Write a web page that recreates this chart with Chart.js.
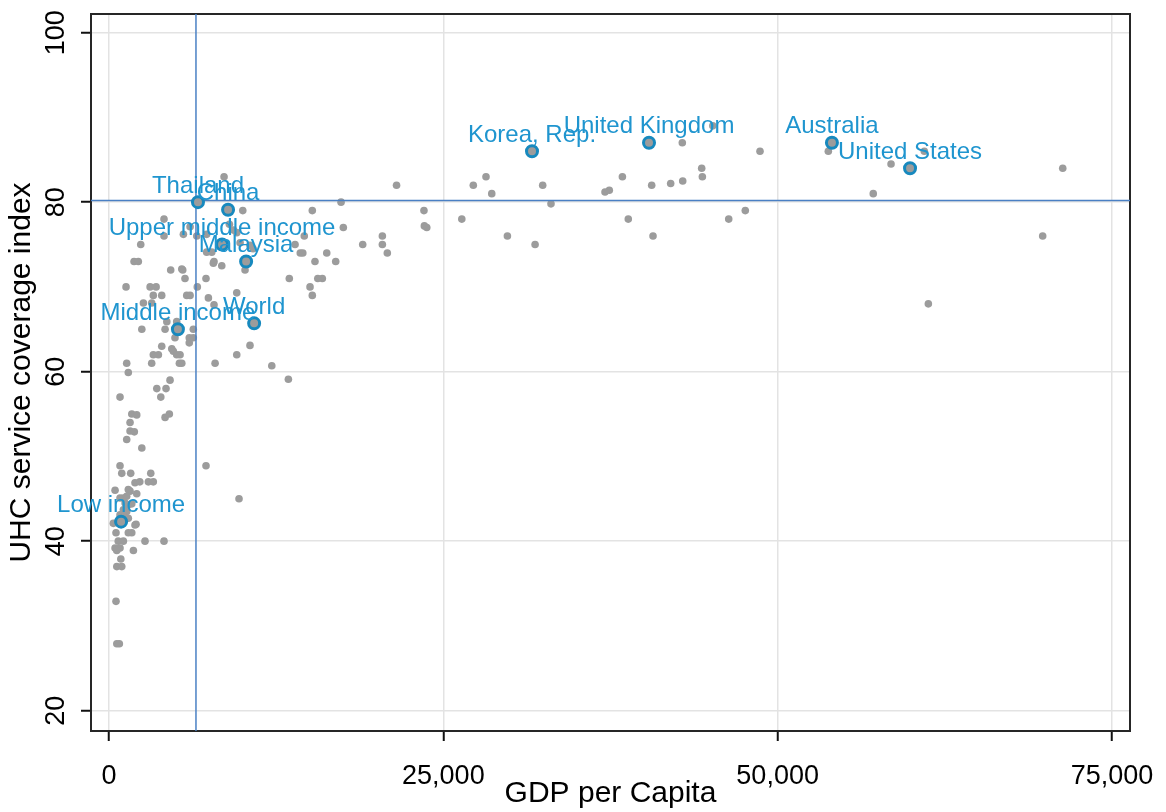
<!DOCTYPE html>
<html>
<head>
<meta charset="utf-8">
<script src="https://cdn.jsdelivr.net/npm/chart.js"></script>
<style>
  html, body { margin: 0; padding: 0; background: #fff; }
  #wrap { width: 1166px; height: 812px; }
</style>
</head>
<body>
<div id="wrap"><canvas id="chart"></canvas></div>
<script>
// all countries
const gdpPerCapita = [
  45150, 42870, 48680, 53790, 60970, 58480, 71320, 44320, 44370, 38390,
  28190, 42900, 42000, 40580, 37410, 37090, 57150, 28620, 27240, 32430,
  21500, 17350, 33050, 23550, 15200, 26380, 38830, 46340, 47580, 23580,
  23760, 17520, 40680, 29790, 69820, 20440, 31860, 20440, 18970, 16280,
  20810, 14300, 14490, 61270, 16950, 15400, 13910, 15950, 15610, 13480,
  15030, 15200, 14600, 12170, 13410,
  8600, 10000, 4110, 4110, 6060, 5560, 7300, 9300, 9550, 9000,
  2370, 9800, 10540, 10770, 7300, 7680, 1870, 2190, 7850, 7800,
  8430, 4610, 5510, 10170, 5440, 5680, 7250, 1270, 3070, 3520,
  6600, 3310, 3940, 5810, 6060, 9550, 7430, 2570, 3190, 7850,
  4320, 5060, 2450, 4190, 6300, 4930, 6000, 6300, 6000, 3940,
  4690, 10540, 3310, 3690, 4810, 5310, 9550, 1320, 3190, 5260,
  5440, 7930, 1440, 4560, 3570, 4260, 820, 3870, 1700, 2070,
  4510, 4190, 1570, 1570, 1890, 1320, 2450, 7250, 820, 950,
  1620, 3120, 1940, 2300, 2940, 3310, 450, 1570, 1440, 2070,
  820, 1070, 1320, 9720, 1200, 1440, 1700, 1070, 1320, 820,
  1070, 1440, 690, 320, 2020, 1940, 520, 1700, 1440, 690,
  1070, 2690, 4110, 450, 820, 1820, 580, 880, 580, 950,
  520, 580, 770, 6560, 5060
];
const uhcIndex = [
  89, 87, 86, 86, 86, 84.5, 84, 84, 83, 83,
  83, 82.5, 82.2, 82, 81.4, 81.2, 81, 81, 82, 82,
  82, 80, 79.8, 79, 79, 78, 78, 78, 79, 77.2,
  77, 77, 76, 76, 76, 76, 75, 75, 75, 74,
  74, 74, 74, 68, 73, 73, 75, 71, 71, 71,
  70, 69, 76, 60.7, 59.1,
  83, 79, 78, 76, 77.1, 76.2, 76.2, 76.7, 76.4, 77.4,
  75, 75.2, 74.9, 74.5, 74.1, 74.1, 73, 73, 73, 72.8,
  72.5, 72, 72, 72, 72.1, 71, 71, 70, 70, 70,
  70, 69, 69, 69, 69, 69.3, 68.7, 68.1, 68.1, 67.9,
  65.9, 65.9, 65, 65, 65, 64, 64, 64, 63.4, 63,
  62.7, 63.1, 62, 62, 62.4, 62, 62, 61, 61, 61,
  61, 61, 59.9, 59, 58, 58, 57, 57, 55, 54.9,
  55, 54.6, 54, 53, 52.9, 52, 51, 48.9, 48.9, 48,
  48, 48, 46.9, 47, 47, 47, 46, 45.9, 46.1, 45.6,
  45.1, 45.1, 45.3, 45, 44.5, 44.3, 44.4, 43.7, 43.5, 43.1,
  42.9, 42.7, 42.3, 42.1, 42, 41.9, 41, 41, 41, 40,
  40, 40, 40, 39.2, 39.2, 38.9, 38.9, 37.9, 37, 37,
  32.9, 27.9, 27.9, 76, 62
];

// labelled countries and groups
const namedLabels = ["Thailand", "China", "Upper middle income", "Malaysia", "World",
  "Middle income", "Low income", "Korea, Rep.", "United Kingdom", "Australia", "United States"];
const namedGdp = [6650, 8900, 8450, 10250, 10850, 5150, 900, 31630, 40380, 54060, 59900];
const namedUhc = [80, 79.1, 75, 73, 65.7, 65, 42.3, 86, 87, 87, 84];

// reference lines (Thailand level)
const refGdp = 6500;
const refUhc = 80.2;

const xTicks = [0, 25000, 50000, 75000];
const yTicks = [20, 40, 60, 80, 100];
const xRange = [-1350, 76350];
const yRange = [17.6, 102.2];

const BLUE = "#1f95cf";
const LINE = "#4a80c4";
const GREY = "#9c9c9c";

Chart.defaults.font.family = '"Liberation Sans", Arial, sans-serif';
Chart.defaults.color = "#000";

const toPoints = (xs, ys) => xs.map((x, i) => ({ x, y: ys[i] }));

// frame round the plot area
const frame = {
  id: "frame",
  beforeDatasetsDraw(chart) {
    const { ctx, chartArea: a } = chart;
    ctx.save();
    ctx.strokeStyle = "#262626";
    ctx.lineWidth = 2;
    ctx.strokeRect(a.left, a.top, a.right - a.left, a.bottom - a.top);
    ctx.restore();
  },
};

// marker labels centred above the blue points
const markerLabels = {
  id: "markerLabels",
  afterDatasetsDraw(chart) {
    const { ctx } = chart;
    const meta = chart.getDatasetMeta(0);
    ctx.save();
    ctx.font = '24px "Liberation Sans", Arial, sans-serif';
    ctx.fillStyle = BLUE;
    ctx.textAlign = "center";
    ctx.textBaseline = "alphabetic";
    meta.data.forEach((pt, i) => {
      ctx.fillText(namedLabels[i], pt.x, pt.y - 9.5);
    });
    ctx.restore();
  },
};

const fmt = (v) => v.toLocaleString("en-US");

new Chart(document.getElementById("chart"), {
  type: "scatter",
  data: {
    datasets: [
      {
        label: "named",
        data: toPoints(namedGdp, namedUhc),
        pointRadius: 5.5,
        backgroundColor: GREY,
        borderColor: "#1789be",
        borderWidth: 3,
      },
      {
        label: "ref x",
        data: [{ x: refGdp, y: yRange[0] }, { x: refGdp, y: yRange[1] }],
        showLine: true,
        pointRadius: 0,
        borderColor: LINE,
        borderWidth: 1.5,
      },
      {
        label: "ref y",
        data: [{ x: xRange[0], y: refUhc }, { x: xRange[1], y: refUhc }],
        showLine: true,
        pointRadius: 0,
        borderColor: LINE,
        borderWidth: 1.5,
      },
      {
        label: "countries",
        data: toPoints(gdpPerCapita, uhcIndex),
        pointRadius: 3.8,
        backgroundColor: GREY,
        borderWidth: 0,
      },
    ],
  },
  options: {
    responsive: true,
    maintainAspectRatio: false,
    animation: false,
    devicePixelRatio: 1,
    layout: { padding: { left: 0, right: 36, top: 14, bottom: 0 } },
    plugins: {
      legend: { display: false },
      tooltip: { enabled: false },
    },
    scales: {
      x: {
        type: "linear",
        min: xRange[0],
        max: xRange[1],
        afterBuildTicks: (s) => { s.ticks = xTicks.map((v) => ({ value: v })); },
        afterFit: (s) => { s.height = 81; s.paddingLeft = 0; s.paddingRight = 0; },
        grid: { color: "#e3e3e3", lineWidth: 1.5, tickColor: "#111", tickWidth: 2, tickLength: 10 },
        border: { display: false },
        ticks: { font: { size: 27 }, padding: 19, maxRotation: 0, autoSkip: false, callback: (v) => fmt(v) },
        title: { display: true, text: "GDP per Capita", font: { size: 30 }, padding: { top: 0, bottom: 0 } },
      },
      y: {
        type: "linear",
        min: yRange[0],
        max: yRange[1],
        afterBuildTicks: (s) => { s.ticks = yTicks.map((v) => ({ value: v })); },
        afterFit: (s) => { s.width = 91; s.paddingTop = 0; s.paddingBottom = 0; },
        grid: { color: "#e3e3e3", lineWidth: 1.5, tickColor: "#111", tickWidth: 2, tickLength: 10 },
        border: { display: false },
        ticks: { font: { size: 27 }, padding: 2, minRotation: 90, maxRotation: 90, crossAlign: "center", autoSkip: false },
        title: { display: true, text: "UHC service coverage index", font: { size: 30 }, padding: { top: 4, bottom: 0 } },
      },
    },
  },
  plugins: [frame, markerLabels],
});
</script>
</body>
</html>
